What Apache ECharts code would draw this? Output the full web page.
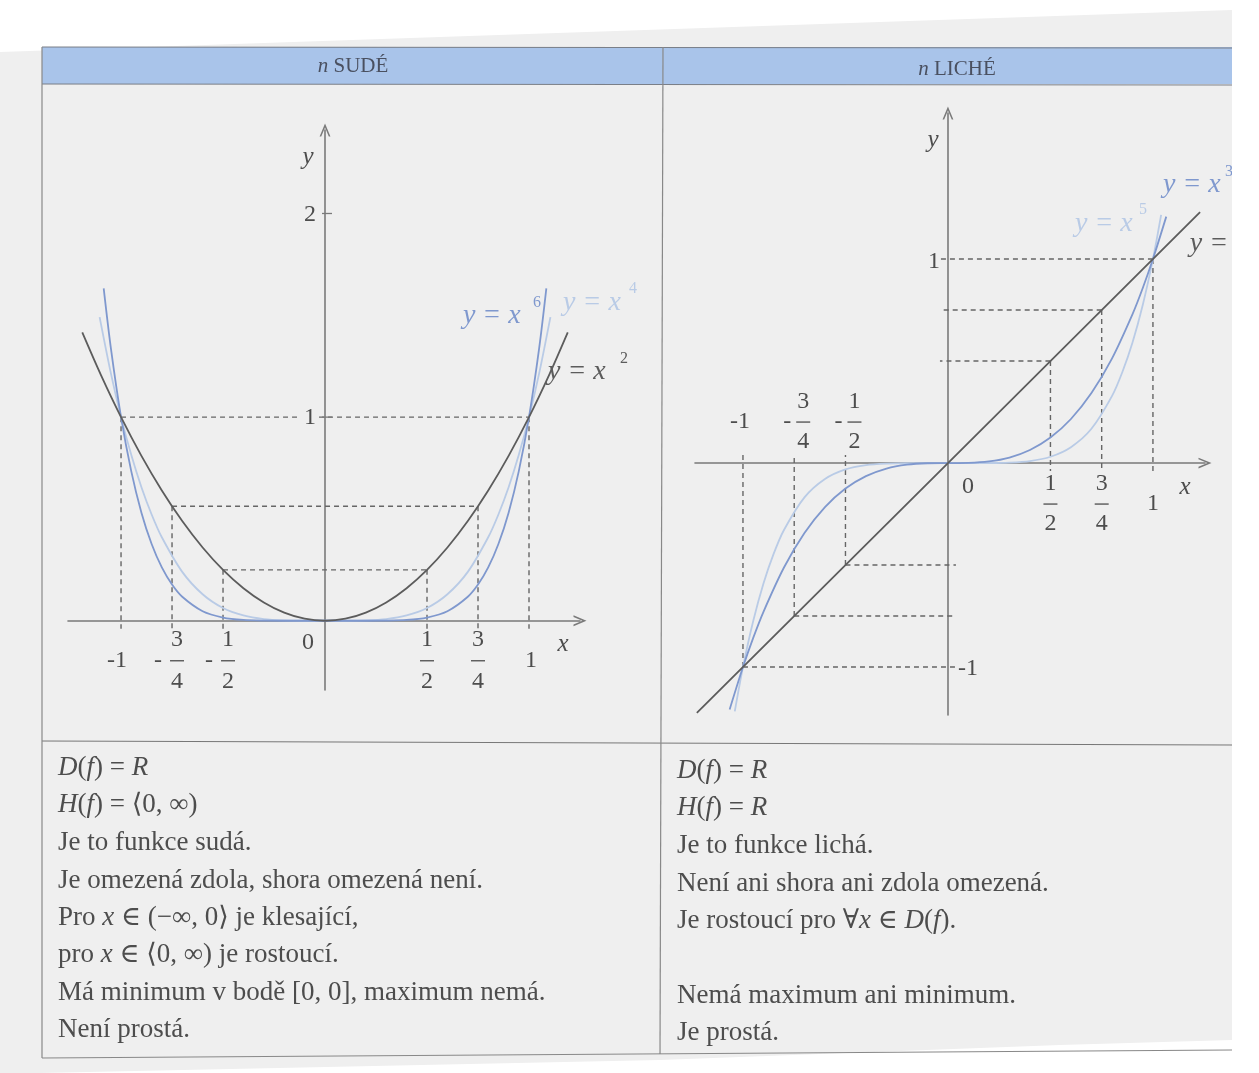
<!DOCTYPE html>
<html><head><meta charset="utf-8">
<script src="https://cdn.jsdelivr.net/npm/echarts@6/dist/echarts.min.js"></script>
<style>html,body{margin:0;padding:0;background:#fff}#c{width:1259px;height:1073px}</style>
</head><body><div id="c"></div><script>
// ---------- DATA ----------
const headerTitles = ['SUDÉ', 'LICHÉ'];
// even powers
const evenSquare = [[-1.19,1.416],[-1.1,1.21],[-1,1],[-0.9,0.81],[-0.8,0.64],[-0.7,0.49],[-0.6,0.36],[-0.5,0.25],[-0.4,0.16],[-0.3,0.09],[-0.2,0.04],[-0.1,0.01],[0,0],[0.1,0.01],[0.2,0.04],[0.3,0.09],[0.4,0.16],[0.5,0.25],[0.6,0.36],[0.7,0.49],[0.8,0.64],[0.9,0.81],[1,1],[1.1,1.21],[1.19,1.416]];
const evenFourth = [[-1.105,1.491],[-1.05,1.216],[-1,1],[-0.95,0.815],[-0.9,0.656],[-0.85,0.522],[-0.8,0.41],[-0.7,0.24],[-0.6,0.13],[-0.5,0.0625],[-0.4,0.026],[-0.3,0.008],[-0.2,0.0016],[-0.1,0.0001],[0,0],[0.1,0.0001],[0.2,0.0016],[0.3,0.008],[0.4,0.026],[0.5,0.0625],[0.6,0.13],[0.7,0.24],[0.8,0.41],[0.85,0.522],[0.9,0.656],[0.95,0.815],[1,1],[1.05,1.216],[1.105,1.491]];
const evenSixth = [[-1.085,1.632],[-1.05,1.34],[-1,1],[-0.95,0.735],[-0.9,0.531],[-0.85,0.377],[-0.8,0.262],[-0.75,0.178],[-0.7,0.118],[-0.6,0.047],[-0.5,0.016],[-0.4,0.004],[-0.3,0.0007],[-0.2,0.0001],[0,0],[0.2,0.0001],[0.3,0.0007],[0.4,0.004],[0.5,0.016],[0.6,0.047],[0.7,0.118],[0.75,0.178],[0.8,0.262],[0.85,0.377],[0.9,0.531],[0.95,0.735],[1,1],[1.05,1.34],[1.085,1.632]];
// odd powers
const oddFirst = [[-1.225,-1.225],[0,0],[1.23,1.23]];
const oddThird = [[-1.065,-1.208],[-1,-1],[-0.95,-0.857],[-0.9,-0.729],[-0.8,-0.512],[-0.7,-0.343],[-0.6,-0.216],[-0.5,-0.125],[-0.4,-0.064],[-0.3,-0.027],[-0.2,-0.008],[-0.1,-0.001],[0,0],[0.1,0.001],[0.2,0.008],[0.3,0.027],[0.4,0.064],[0.5,0.125],[0.6,0.216],[0.7,0.343],[0.8,0.512],[0.9,0.729],[0.95,0.857],[1,1],[1.065,1.208]];
const oddFifth = [[-1.04,-1.217],[-1,-1],[-0.95,-0.774],[-0.9,-0.59],[-0.85,-0.444],[-0.8,-0.328],[-0.7,-0.168],[-0.6,-0.078],[-0.5,-0.031],[-0.4,-0.01],[-0.3,-0.0024],[-0.2,-0.0003],[0,0],[0.2,0.0003],[0.3,0.0024],[0.4,0.01],[0.5,0.031],[0.6,0.078],[0.7,0.168],[0.8,0.328],[0.85,0.444],[0.9,0.59],[0.95,0.774],[1,1],[1.04,1.217]];
// guide lines and tick labels
const guideX = [-1, -0.75, -0.5, 0.5, 0.75, 1];
const evenGuideY = [1, 0.5625, 0.25, 0.25, 0.5625, 1];
const oddGuideY = [-1, -0.75, -0.5, 0.5, 0.75, 1];
const xTickLabels = ['-1', '-3/4', '-1/2', '1/2', '3/4', '1'];
const evenYTicks = [1, 2];
const oddYTicks = [1, -1];
const evenCurveNames = ['x^2', 'x^4', 'x^6'];
const oddCurveNames = ['x', 'x^3', 'x^5'];
const evenText = [
  '{i|D}({i|f}) = {i|R}',
  '{i|H}({i|f}) = ⟨0, ∞)',
  'Je to funkce sudá.',
  'Je omezená zdola, shora omezená není.',
  'Pro {i|x} ∈ (−∞, 0⟩ je klesající,',
  'pro {i|x} ∈ ⟨0, ∞) je rostoucí.',
  'Má minimum v bodě [0, 0], maximum nemá.',
  'Není prostá.'
];
const oddText = [
  '{i|D}({i|f}) = {i|R}',
  '{i|H}({i|f}) = {i|R}',
  'Je to funkce lichá.',
  'Není ani shora ani zdola omezená.',
  'Je rostoucí pro ∀{i|x} ∈ {i|D}({i|f}).',
  '',
  'Nemá maximum ani minimum.',
  'Je prostá.'
];

// ---------- STYLE ----------
const SERIF = '"Liberation Serif","DejaVu Serif",serif';
const TXT = '#4d4d4d';
const AX = '#7a7a7a';
const DARK = '#5c5c5c', BLUE = '#7f98ce', LIGHT = '#b9cbe6';
const PAPER = '#efefef';
const BODY = 27;
const arrowSym = 'path://M0,12 L5,0 L10,12 L8.5,12 L5,3.8 L1.5,12 Z';

function axis(gi, min, max) {
  return {type:'value', gridIndex:gi, min, max,
    axisLine:{show:true, onZero:true, symbol:['none', arrowSym], symbolSize:[11,13], lineStyle:{color:AX, width:1.6}},
    axisTick:{show:false}, axisLabel:{show:false}, splitLine:{show:false}};
}
function curve(gi, data, color, smooth) {
  return {type:'line', xAxisIndex:gi, yAxisIndex:gi, data, showSymbol:false, smooth: smooth ? 0.3 : false,
    lineStyle:{color, width:1.8}, silent:true, z:4};
}
function guides(gi, ys, mode) {
  return {type:'custom', xAxisIndex:gi, yAxisIndex:gi, silent:true, z:3,
    data: guideX.map((x, i) => [x, ys[i]]),
    renderItem(params, api) {
      const x = api.value(0), y = api.value(1);
      const p = api.coord([x, y]), a = api.coord([x, 0]), o = api.coord([0, y]);
      const st = {stroke:'#666', lineWidth:1.4, lineDash:[5,4]};
      const dir = y > 0 ? 1 : -1;
      const ch = [{type:'line', shape:{x1:p[0], y1:p[1], x2:a[0], y2:a[1] + 8*dir}, style:st}];
      if (mode === 'even') {
        if (x > 0) { const q = api.coord([-x, y]); ch.push({type:'line', shape:{x1:q[0], y1:q[1], x2:p[0], y2:p[1]}, style:st}); }
      } else {
        const ext = x < 0 ? 8 : -8;
        ch.push({type:'line', shape:{x1:p[0], y1:p[1], x2:o[0] + ext, y2:o[1]}, style:st});
      }
      return {type:'group', children:ch};
    }};
}
function anno(gi, items) {
  return {type:'custom', xAxisIndex:gi, yAxisIndex:gi, silent:true, z:6,
    data: items.map(it => it.at),
    renderItem(params, api) {
      const it = items[params.dataIndex];
      const c = api.coord([api.value(0), api.value(1)]);
      const X = c[0] + (it.dx || 0), Y = c[1] + (it.dy || 0);
      if (it.bar) return {type:'line', shape:{x1:X - it.bar/2, y1:Y, x2:X + it.bar/2, y2:Y}, style:{stroke:it.fill || TXT, lineWidth:1.3}};
      const style = {text:it.text, font:it.font || ('24px ' + SERIF), fill:it.fill || TXT,
        align:it.align || 'center', verticalAlign:'middle'};
      if (it.bg) { style.backgroundColor = it.bg; style.padding = [0, 3]; }
      return {type:'text', x:X, y:Y, style};
    }};
}
// x tick labels with stacked fractions
function tickItems(cfg) {
  const out = [];
  guideX.forEach((x, i) => {
    const t = xTickLabels[i];
    const neg = t[0] === '-';
    const body = neg ? t.slice(1) : t;
    const up = neg && cfg.negAbove;
    const s = up ? -1 : 1;
    if (body.indexOf('/') < 0) {
      out.push({at:[x, 0], dx: neg ? cfg.intNegDx : cfg.intPosDx, dy: s*cfg.mid, text:t});
    } else {
      const [n, d] = body.split('/');
      const fx = neg ? cfg.fracNegDx : cfg.fracPosDx;
      out.push({at:[x, 0], dx:fx, dy: s*cfg.mid - cfg.gap, text:n});
      out.push({at:[x, 0], dx:fx, dy: s*cfg.mid, bar:14});
      out.push({at:[x, 0], dx:fx, dy: s*cfg.mid + cfg.gap, text:d});
      if (neg) out.push({at:[x, 0], dx:fx - cfg.minusGap, dy: s*cfg.mid, text:'-'});
    }
  });
  return out;
}
function curveLabel(at, name, color, expDx) {
  const parts = name.split('^');
  const it = [{at, dx:0, dy:0, text:'y = ' + parts[0], align:'left', fill:color, font:'italic 28px ' + SERIF}];
  if (parts[1]) it.push({at, dx:expDx, dy:-13, text:parts[1], align:'left', fill:color, font:'16px ' + SERIF});
  return it;
}

const evenItems = [].concat(
  tickItems({negAbove:false, mid:40, gap:21, intNegDx:-4, intPosDx:2, fracNegDx:5, fracPosDx:0, minusGap:19}),
  [{at:[0,0], dx:-17, dy:22, text:'0'},
   {at:[0,2.41], dx:-17, dy:27, text:'y', font:'italic 25px ' + SERIF}],
  evenYTicks.map(v => ({at:[0, v], dx:-15, dy:1, text:String(v), bg: v === 1 ? PAPER : undefined})),
  evenYTicks.map(v => ({at:[0, v], dx:2, dy:0, bar:10, fill:AX})),
  [{at:[1.25,0], dx:-17, dy:24, text:'x', font:'italic 25px ' + SERIF}],
  curveLabel([0.676, 1.5], evenCurveNames[2], BLUE, 70),
  curveLabel([1.167, 1.564], evenCurveNames[1], LIGHT, 66),
  curveLabel([1.093, 1.225], evenCurveNames[0], DARK, 72)
);
const oddItems = [].concat(
  tickItems({negAbove:true, mid:41, gap:20, intNegDx:-3, intPosDx:0, fracNegDx:9, fracPosDx:0, minusGap:16}),
  [{at:[0,0], dx:20, dy:24, text:'0'},
   {at:[0,1.716], dx:-15, dy:27, text:'y', font:'italic 25px ' + SERIF},
   {at:[1.254,0], dx:-20, dy:24, text:'x', font:'italic 25px ' + SERIF},
   {at:[0,1], dx:-14, dy:3, text:'1'},
   {at:[0,-1], dx:20, dy:2, text:'-1'}],
  curveLabel([1.049, 1.363], oddCurveNames[1], BLUE, 62),
  curveLabel([0.62, 1.176], oddCurveNames[2], LIGHT, 64),
  curveLabel([1.18, 1.078], oddCurveNames[0], DARK, 0)
);

// ---------- PAGE GRAPHICS ----------
const HEAD = '21px ' + SERIF, HEADI = 'italic 21px ' + SERIF;
const graphics = [
  {type:'polygon', shape:{points:[[0,52],[1232,10],[1232,1040],[1060,1045],[660,1060],[40,1073],[0,1073]]}, style:{fill:PAPER}, z:-10},
  {type:'rect', shape:{x:42, y:47, width:1190, height:37}, style:{fill:'#a9c4ea'}, z:-9},
  {type:'line', shape:{x1:42, y1:47, x2:1232, y2:48}, style:{stroke:'#7a7f88', lineWidth:1.2}, z:-8},
  {type:'line', shape:{x1:42, y1:84, x2:1232, y2:85}, style:{stroke:'#7a7f88', lineWidth:1.2}, z:-8},
  {type:'line', shape:{x1:42, y1:741, x2:1232, y2:745}, style:{stroke:'#777', lineWidth:1.2}, z:-8},
  {type:'line', shape:{x1:42, y1:1058, x2:1232, y2:1050}, style:{stroke:'#888', lineWidth:1.2}, z:-8},
  {type:'line', shape:{x1:42, y1:47, x2:42, y2:1058}, style:{stroke:'#888', lineWidth:1.2}, z:-8},
  {type:'line', shape:{x1:663, y1:47, x2:660, y2:1054}, style:{stroke:'#888', lineWidth:1.2}, z:-8},
  {type:'text', x:353, y:66, style:{text:'{i|n} ' + headerTitles[0], font:HEAD, fill:'#4a5060', align:'center', verticalAlign:'middle', rich:{i:{font:HEADI, fill:'#4a5060'}}}, z:-7},
  {type:'text', x:957, y:69, style:{text:'{i|n} ' + headerTitles[1], font:HEAD, fill:'#4a5060', align:'center', verticalAlign:'middle', rich:{i:{font:HEADI, fill:'#4a5060'}}}, z:-7},
  {type:'rect', shape:{x:1232, y:0, width:40, height:1073}, style:{fill:'#fff'}, z:100}
];
const evenLineY = [768, 805, 843, 881, 918, 955, 993, 1030];
const oddLineY = [771, 808, 846, 884, 921, 958, 996, 1033];
const richI = {i:{font:'italic ' + BODY + 'px ' + SERIF, fill:TXT}};
evenText.forEach((t, i) => graphics.push({type:'text', x:58, y:evenLineY[i], style:{text:t, font:BODY + 'px ' + SERIF, fill:TXT, verticalAlign:'middle', rich:richI}, z:-6}));
oddText.forEach((t, i) => { if (t) graphics.push({type:'text', x:677, y:oddLineY[i], style:{text:t, font:BODY + 'px ' + SERIF, fill:TXT, verticalAlign:'middle', rich:richI}, z:-6}); });

// ---------- CHART ----------
const chart = echarts.init(document.getElementById('c'), null, {renderer:'canvas', width:1259, height:1073});
chart.setOption({
  backgroundColor:'#ffffff',
  animation:false,
  graphic: graphics,
  grid:[
    {left:68, top:130, width:512, height:560, containLabel:false},
    {left:695, top:113, width:510, height:602, containLabel:false}
  ],
  xAxis:[axis(0, -1.26, 1.25), axis(1, -1.234, 1.254)],
  yAxis:[axis(0, -0.34, 2.41), axis(1, -1.235, 1.716)],
  series:[
    guides(0, evenGuideY, 'even'),
    curve(0, evenFourth, LIGHT, true),
    curve(0, evenSixth, BLUE, true),
    curve(0, evenSquare, DARK, true),
    anno(0, evenItems),
    guides(1, oddGuideY, 'odd'),
    curve(1, oddFifth, LIGHT, true),
    curve(1, oddThird, BLUE, true),
    curve(1, oddFirst, DARK, false),
    anno(1, oddItems)
  ]
});
</script></body></html>
